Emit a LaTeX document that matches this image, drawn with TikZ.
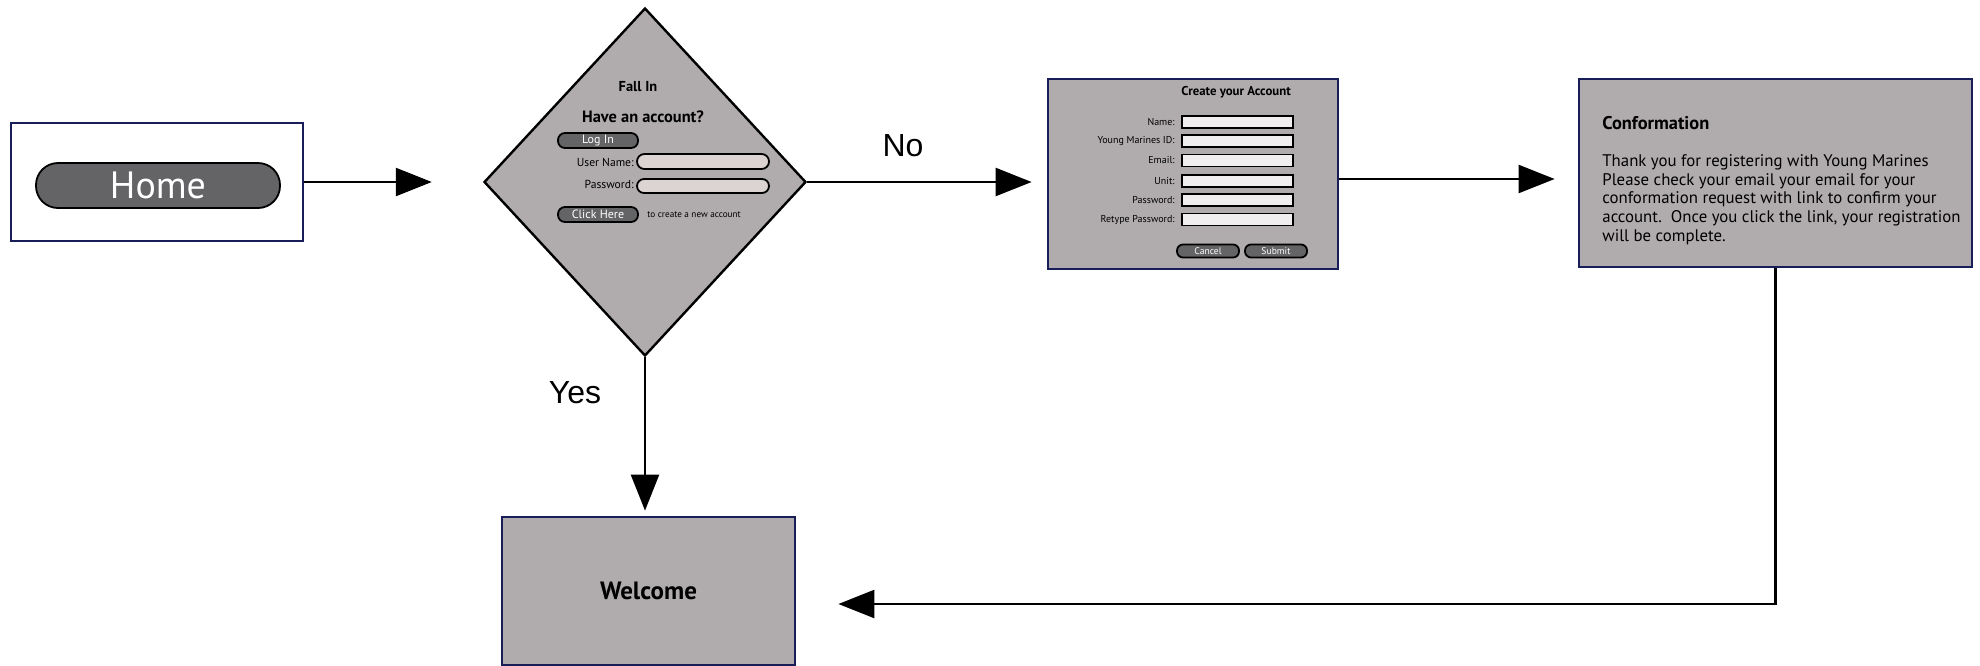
\documentclass[tikz,border=0pt]{standalone}
\usepackage{fontspec}
\setmainfont{PT Sans}
\newfontfamily\arialf{Liberation Sans}
\usetikzlibrary{arrows.meta,shapes.geometric}
\definecolor{boxgray}{RGB}{176,172,173}
\definecolor{btngray}{RGB}{100,100,102}
\definecolor{navy}{RGB}{24,30,88}
\definecolor{fieldpink}{RGB}{220,212,211}
\definecolor{fieldlight}{RGB}{240,238,238}
\tikzset{
  box/.style={draw=navy, line width=1.4pt, fill=boxgray, inner sep=0pt},
  btn/.style={draw=black, line width=0.9pt, fill=btngray, text=white, inner sep=0pt},
  field/.style={draw=black, line width=0.9pt, inner sep=0pt},
  arr/.style={draw=black, line width=1.2pt, -{Triangle[length=18pt,width=14pt]}},
  lbl/.style={inner sep=0pt},
}
\begin{document}
\begin{tikzpicture}[x=0.5pt,y=-0.5pt]
\useasboundingbox (0,0) rectangle (1980,665);
% boxes
\node[box, fill=white, minimum width=146pt, minimum height=59pt] (home) at (157,182) {};
\node[btn, rounded corners=11pt, minimum width=122pt, minimum height=22.5pt, font=\fontsize{19}{22}\selectfont] (homebtn) at (158,185.5) {Home};
\node[draw=black, line width=1.2pt, fill=boxgray, shape=diamond, inner sep=0pt, minimum width=161pt, minimum height=174pt] (dia) at (645,182) {};
\node[box, minimum width=145pt, minimum height=95pt] (create) at (1193,174) {};
\node[box, minimum width=196.5pt, minimum height=94pt] (conf) at (1775.5,173) {};
\node[box, minimum width=146.5pt, minimum height=74pt, font=\bfseries\fontsize{12.5}{14}\selectfont] (welcome) at (648.5,591) {Welcome};
% diamond content
\node[lbl, font=\bfseries\fontsize{7.2}{8}\selectfont] (fallin) at (638,87) {Fall In};
\node[lbl, font=\bfseries\fontsize{8.2}{9}\selectfont] (have) at (643,117) {Have an account?};
\node[btn, rounded corners=3.5pt, minimum width=40pt, minimum height=7.5pt, font=\fontsize{6}{6}\selectfont] (login) at (598,140.5) {Log In};
\node[lbl, anchor=east, font=\fontsize{5.8}{6}\selectfont] (unl) at (634,162) {User Name:};
\node[field, fill=fieldpink, rounded corners=3.7pt, minimum width=66pt, minimum height=7.5pt] (unf) at (703,161.5) {};
\node[lbl, anchor=east, font=\fontsize{5.8}{6}\selectfont] (pwl) at (634,184) {Password:};
\node[field, fill=fieldpink, rounded corners=3.5pt, minimum width=66pt, minimum height=7pt] (pwf) at (703,186) {};
\node[btn, rounded corners=3.5pt, minimum width=40pt, minimum height=7.5pt, font=\fontsize{6}{6}\selectfont] (click) at (598,214.5) {Click Here};
\node[lbl, anchor=west, font=\fontsize{4.6}{5}\selectfont] (tocreate) at (647,215) {to create a new account};
% create content
\node[lbl, font=\bfseries\fontsize{6.4}{7}\selectfont] (ctitle) at (1236,92) {Create your Account};
\foreach \lab/\yy [count=\i] in {Name:/122, Young Marines ID:/141, Email:/160.5, Unit:/181, Password:/200, Retype Password:/219.5}{
  \node[lbl, anchor=east, font=\fontsize{5}{5}\selectfont] (cl\i) at (1175,\yy) {\lab};
  \node[field, fill=fieldlight, minimum width=55.5pt, minimum height=6pt] (cf\i) at (1237.5,\yy) {};
}
\node[btn, rounded corners=3pt, minimum width=31pt, minimum height=6.5pt, font=\fontsize{4.8}{5}\selectfont] (cancel) at (1208,251) {Cancel};
\node[btn, rounded corners=3pt, minimum width=31pt, minimum height=6.5pt, font=\fontsize{4.8}{5}\selectfont] (submit) at (1276,251) {Submit};
% conformation content
\node[lbl, anchor=west, font=\bfseries\fontsize{9.2}{10}\selectfont] (ctit) at (1602,123) {Conformation};
\node[lbl, anchor=north west, align=left, font=\fontsize{8.4}{9.4}\selectfont] (cbody) at (1602,154) {Thank you for registering with Young Marines\\Please check your email your email for your\\conformation request with link to confirm your\\account.\ \ Once you click the link, your registration\\will be complete.};
% labels
\node[lbl, font=\arialf\fontsize{16}{18}\selectfont] (no) at (903,146) {No};
\node[lbl, font=\arialf\fontsize{16}{18}\selectfont] (yes) at (575,393) {Yes};
% connectors
\draw[arr, shorten >=25.5pt] (home.east) -- (dia.west);
\draw[arr, shorten >=7.5pt] (dia.east) -- (dia.east -| create.west);
\draw[arr, shorten >=11.5pt] ([yshift=-2.5pt]create.east) -- ([yshift=-2.5pt]create.east -| conf.west);
\draw[arr, shorten >=2.5pt] (dia.south) -- (dia.south |- welcome.north);
\draw[arr, shorten >=21pt] (conf.south) |- ([yshift=-6.5pt]welcome.east);
\end{tikzpicture}
\end{document}
